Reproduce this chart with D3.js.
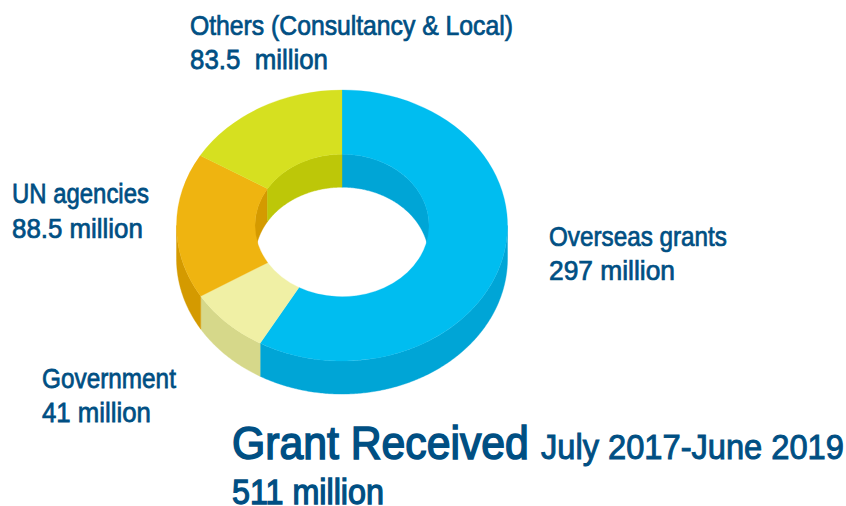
<!DOCTYPE html>
<html>
<head>
<meta charset="utf-8">
<script src="https://cdn.jsdelivr.net/npm/d3@7"></script>
<style>
html,body{margin:0;padding:0;background:#fff;}
text{font-family:"Liberation Sans",sans-serif;fill:#004f83;stroke:#004f83;white-space:pre;}
</style>
</head>
<body>
<svg id="c" width="846" height="506" style="display:block"></svg>
<script>
const categories = ["Overseas grants","Government","UN agencies","Others (Consultancy & Local)"];
const values = [297,41,88.5,83.5];
const valueLabels = ["297 million","41 million","88.5 million","83.5  million"];
const topColors = ["#00bdf0","#f0f0a5","#efb410","#d6e020"];
const wallColors = ["#00a5d6","#d6d88a","#d49a00","#bdc708"];
const titleMain = "Grant Received";
const titleRange = "July 2017-June 2019";
const titleTotal = "511 million";

const W=846,H=506,cx=342,cy=225.5,rx=165.5,rxIn=87,tilt=0.819,depth=33;
const svg=d3.select("#c").attr("viewBox",`0 0 ${W} ${H}`);
const pie=d3.pie().sort(null).value(d=>d);
const slices=pie(values);
const TAU=2*Math.PI;

const px=(r,a)=>cx+r*Math.sin(a);
const py=(r,a,dz)=>cy-r*tilt*Math.cos(a)+dz;
const line=d3.line().x(d=>d[0]).y(d=>d[1]);
function samples(a0,a1){
  const n=Math.max(2,Math.ceil((a1-a0)/0.01));
  return d3.range(n+1).map(i=>a0+(a1-a0)*i/n);
}
function wallPath(r,a0,a1,dTop,dBot){
  const s=samples(a0,a1);
  const pts=s.map(a=>[px(r,a),py(r,a,dTop)]).concat(s.slice().reverse().map(a=>[px(r,a),py(r,a,dBot)]));
  return line(pts)+"Z";
}
const g=svg.append("g");
slices.forEach((s,i)=>{
  const a0=Math.max(s.startAngle,TAU/4), a1=Math.min(s.endAngle,3*TAU/4);
  if(a1>a0) g.append("path").attr("d",wallPath(rx,a0,a1,0,depth)).attr("fill",wallColors[i]).attr("stroke",wallColors[i]).attr("stroke-width",0.4);
});
slices.forEach((s,i)=>{
  [[s.startAngle,s.endAngle],[s.startAngle+TAU,s.endAngle+TAU]].forEach(([b0,b1])=>{
    const a0=Math.max(b0,3*TAU/4), a1=Math.min(b1,5*TAU/4);
    if(a1>a0) g.append("path").attr("d",wallPath(rxIn,a0,a1,0,depth)).attr("fill",wallColors[i]).attr("stroke",wallColors[i]).attr("stroke-width",0.4);
  });
});
const arc=d3.arc().innerRadius(rxIn).outerRadius(rx);
g.append("g").attr("transform",`translate(${cx},${cy}) scale(1,${tilt})`)
  .selectAll("path").data(slices).join("path")
  .attr("d",arc).attr("fill",(d,i)=>topColors[i]).attr("stroke",(d,i)=>topColors[i]).attr("stroke-width",0.3);

// x, baseline 1, width 1, baseline 2, width 2
const labelPos=[[549,246,178,280,126],[42,388,134,422,109],[12,203,137,238,131],[190,35,323,69,138]];
const labelSize=28;
function put(x,y,size,w,sw,txt){
  const t=svg.append("text").attr("font-size",size).attr("stroke-width",sw).text(txt);
  const k=w/t.node().getComputedTextLength();
  t.attr("transform",`translate(${x},${y}) scale(${k},1)`);
}
labelPos.forEach(([x,y1,w1,y2,w2],i)=>{
  put(x,y1,labelSize,w1,0.75,categories[i]);
  put(x,y2,labelSize,w2,0.75,valueLabels[i]);
});
put(232,459,47,297,1.6,titleMain);
put(541,459,35,303,1.0,titleRange);
put(232,504,35,152,1.3,titleTotal);
</script>
</body>
</html>
